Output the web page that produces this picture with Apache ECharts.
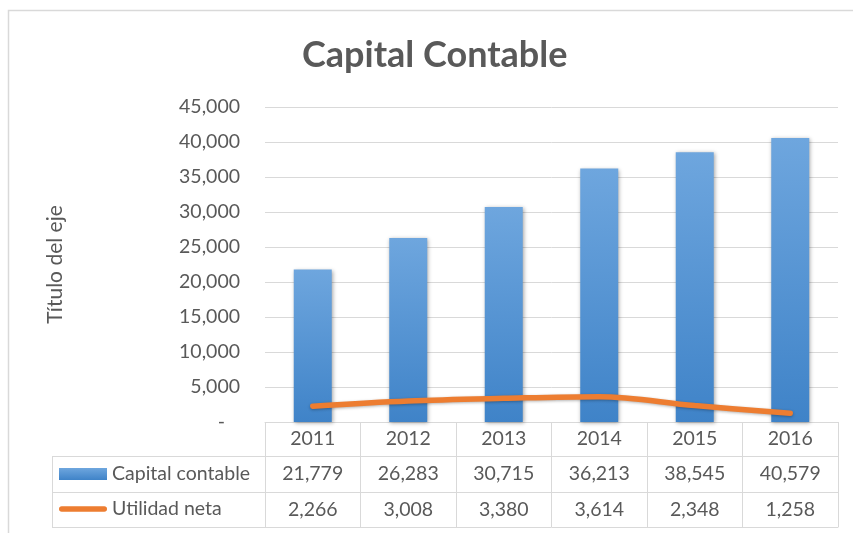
<!DOCTYPE html>
<html><head><meta charset="utf-8">
<script src="https://cdn.jsdelivr.net/npm/echarts@6/dist/echarts.min.js"></script>
<style>html,body{margin:0;padding:0;background:#fff}#c{width:853px;height:533px}</style>
</head><body><div id="c"></div>
<script>
// ---- data ----
const years = ['2011', '2012', '2013', '2014', '2015', '2016'];
const capitalContable = [21779, 26283, 30715, 36213, 38545, 40579];
const utilidadNeta = [2266, 3008, 3380, 3614, 2348, 1258];
const seriesNames = ['Capital contable', 'Utilidad neta'];
const yMin = 0, yMax = 45000, yInterval = 5000;

// ---- style ----
const fmt = v => v.toLocaleString('en-US');
const FONT = 'Lato';
const TXT = '#595959';
const LINEC = '#d9d9d9';
const FS = 19.5;

const gridLeft = 265, gridRight = 15, gridTop = 107, gridBottom = 111;
const W = 853, H = 533;
const y0 = H - gridBottom;          // x axis line
const rows = [34, 36, 35];          // header, row1, row2 heights
const tableLeft = 52;

const chart = echarts.init(document.getElementById('c'), null, {renderer: 'canvas'});

function tableAxis(data, offset, h, showLabel) {
  return {
    type: 'category', data: data, position: 'bottom', offset: offset,
    axisLine: {show: true, lineStyle: {color: LINEC, width: 1}},
    axisTick: {show: h > 0, length: h, interval: 0, lineStyle: {color: LINEC, width: 1}},
    axisLabel: {show: showLabel, interval: 0, margin: h / 2, verticalAlign: 'middle',
      fontFamily: FONT, fontSize: FS, color: TXT},
    splitLine: {show: false}
  };
}

const r1 = y0 + rows[0], r2 = r1 + rows[1], r3 = r2 + rows[2];

chart.setOption({
  animation: false,
  backgroundColor: '#fff',
  title: {
    text: 'Capital Contable', left: 302, top: 37, padding: 0,
    textStyle: {fontFamily: FONT, fontWeight: 'bold', fontSize: 36, color: TXT}
  },
  legend: {
    orient: 'vertical', left: 59, top: r1 + 8, padding: 0, itemWidth: 48, itemHeight: 12, itemGap: 15,
    selectedMode: false,
    textStyle: {fontFamily: FONT, fontSize: FS, color: TXT, lineHeight: 20},
    data: [
      {name: seriesNames[0], icon: 'rect'},
      {name: seriesNames[1], icon: 'path://M3,0H49A3,3 0 0 1 49,6H3A3,3 0 0 1 3,0Z'}
    ]
  },
  grid: {left: gridLeft, right: gridRight, top: gridTop, bottom: gridBottom, containLabel: false},
  xAxis: [
    tableAxis(years, 0, rows[0], true),
    tableAxis(capitalContable.map(fmt), rows[0], rows[1], true),
    tableAxis(utilidadNeta.map(fmt), rows[0] + rows[1], rows[2], true),
    tableAxis(years, rows[0] + rows[1] + rows[2], 0, false)
  ],
  yAxis: {
    type: 'value', min: yMin, max: yMax, interval: yInterval,
    name: 'Título del eje', nameLocation: 'middle', nameGap: 199, nameRotate: 90,
    nameTextStyle: {fontFamily: FONT, fontSize: 21, color: TXT},
    axisLine: {show: false}, axisTick: {show: false},
    axisLabel: {margin: 25, fontFamily: FONT, fontSize: FS, color: TXT,
      formatter: v => v === 0 ? '-   ' : fmt(v)},
    splitLine: {lineStyle: {color: LINEC, width: 1}}
  },
  graphic: [
    {type: 'rect', silent: true, z: -10, shape: {x: 8.5, y: 10.5, width: 900, height: 600},
      style: {fill: 'none', stroke: LINEC, lineWidth: 1.5}},
    {type: 'line', silent: true, shape: {x1: tableLeft, y1: r1 + 0.5, x2: gridLeft, y2: r1 + 0.5}, style: {stroke: LINEC, lineWidth: 1}},
    {type: 'line', silent: true, shape: {x1: tableLeft, y1: r2 + 0.5, x2: gridLeft, y2: r2 + 0.5}, style: {stroke: LINEC, lineWidth: 1}},
    {type: 'line', silent: true, shape: {x1: tableLeft, y1: r3 + 0.5, x2: gridLeft, y2: r3 + 0.5}, style: {stroke: LINEC, lineWidth: 1}},
    {type: 'line', silent: true, shape: {x1: tableLeft + 0.5, y1: r1, x2: tableLeft + 0.5, y2: r3 + 1}, style: {stroke: LINEC, lineWidth: 1}}
  ],
  series: [
    {
      name: seriesNames[0], type: 'bar', data: capitalContable, barWidth: 38, z: 2,
      itemStyle: {
        color: new echarts.graphic.LinearGradient(0, 0, 0, 1, [
          {offset: 0, color: '#6ea6de'}, {offset: 1, color: '#3f83c8'}
        ]),
        shadowBlur: 4, shadowColor: 'rgba(0,0,0,0.35)', shadowOffsetX: 1, shadowOffsetY: 1
      }
    },
    {
      name: seriesNames[1], type: 'line', data: utilidadNeta, smooth: 0.35,
      symbol: 'none', showSymbol: false, z: 3, color: '#ED7D31',
      lineStyle: {width: 5.5, color: '#ED7D31', cap: 'round',
        shadowBlur: 3, shadowColor: 'rgba(0,0,0,0.3)', shadowOffsetY: 1},
      itemStyle: {color: '#ED7D31'}
    }
  ]
});
</script></body></html>
